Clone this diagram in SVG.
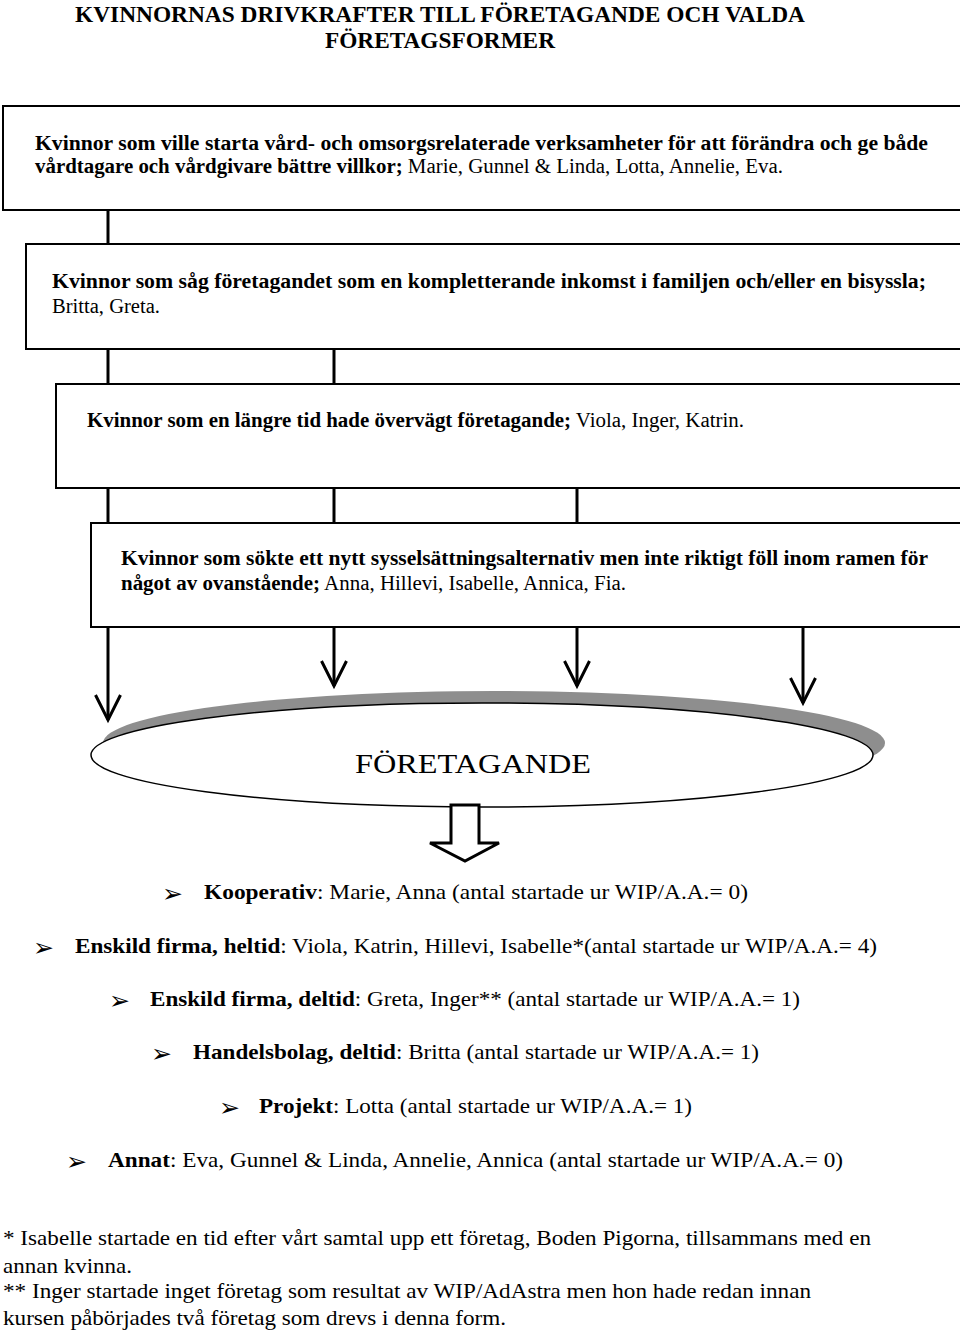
<svg xmlns="http://www.w3.org/2000/svg" width="960" height="1334" viewBox="0 0 960 1334">
<style>
text{font-family:"Liberation Serif","Times New Roman",serif;fill:#000}
.t{font-size:20px}
.b{font-weight:bold}
.title{font-size:24px;font-weight:bold}
.li{font-size:21px}
.bul{font-family:"DejaVu Sans",sans-serif;font-size:25px}
.box{fill:#fff;stroke:#000;stroke-width:2}
.con{stroke:#000;stroke-width:3;fill:none}
</style>
<defs>
<marker id="v" viewBox="-28 -16 32 32" refX="0" refY="0" markerWidth="32" markerHeight="32" markerUnits="userSpaceOnUse" orient="auto">
<path d="M-25,-12.5 L0,0 L-25,12.5" fill="none" stroke="#000" stroke-width="3"/>
</marker>
</defs>
<rect width="960" height="1334" fill="#fff"/>

<g id="title">
<text class="title" x="75" y="22" textLength="730" lengthAdjust="spacingAndGlyphs">KVINNORNAS DRIVKRAFTER TILL FÖRETAGANDE OCH VALDA</text>
<text class="title" x="325" y="48" textLength="230" lengthAdjust="spacingAndGlyphs">FÖRETAGSFORMER</text>
</g>

<g id="connectors">
<line class="con" x1="108" y1="210" x2="108" y2="244"/>
<line class="con" x1="108" y1="349" x2="108" y2="384"/>
<line class="con" x1="334" y1="349" x2="334" y2="384"/>
<line class="con" x1="108" y1="488" x2="108" y2="523"/>
<line class="con" x1="334" y1="488" x2="334" y2="523"/>
<line class="con" x1="577" y1="488" x2="577" y2="523"/>
<line class="con" x1="108" y1="627" x2="108" y2="720" marker-end="url(#v)"/>
<line class="con" x1="334" y1="627" x2="334" y2="686" marker-end="url(#v)"/>
<line class="con" x1="577" y1="627" x2="577" y2="686" marker-end="url(#v)"/>
<line class="con" x1="803" y1="627" x2="803" y2="703" marker-end="url(#v)"/>
</g>

<g id="box1">
<rect class="box" x="3" y="106" width="962" height="104"/>
<text class="t" x="35" y="150" textLength="893" lengthAdjust="spacingAndGlyphs"><tspan class="b">Kvinnor som ville starta vård- och omsorgsrelaterade verksamheter för att förändra och ge både</tspan></text>
<text class="t" x="35" y="173" textLength="748" lengthAdjust="spacingAndGlyphs"><tspan class="b">vårdtagare och vårdgivare bättre villkor;</tspan> Marie, Gunnel &amp; Linda, Lotta, Annelie, Eva.</text>
</g>

<g id="box2">
<rect class="box" x="26" y="244" width="940" height="105"/>
<text class="t b" x="52" y="288" textLength="874" lengthAdjust="spacingAndGlyphs">Kvinnor som såg företagandet som en kompletterande inkomst i familjen och/eller en bisyssla;</text>
<text class="t" x="52" y="313" textLength="108" lengthAdjust="spacingAndGlyphs">Britta, Greta.</text>
</g>

<g id="box3">
<rect class="box" x="56" y="384" width="910" height="104"/>
<text class="t" x="87" y="427" textLength="657" lengthAdjust="spacingAndGlyphs"><tspan class="b">Kvinnor som en längre tid hade övervägt företagande;</tspan> Viola, Inger, Katrin.</text>
</g>

<g id="box4">
<rect class="box" x="91" y="523" width="875" height="104"/>
<text class="t b" x="121" y="565" textLength="807" lengthAdjust="spacingAndGlyphs">Kvinnor som sökte ett nytt sysselsättningsalternativ men inte riktigt föll inom ramen för</text>
<text class="t" x="121" y="590" textLength="505" lengthAdjust="spacingAndGlyphs"><tspan class="b">något av ovanstående;</tspan> Anna, Hillevi, Isabelle, Annica, Fia.</text>
</g>

<g id="foretagande">
<ellipse cx="494" cy="743" rx="391" ry="52" fill="#8e8e8e"/>
<ellipse cx="482" cy="755" rx="391" ry="52" fill="#fff" stroke="#000" stroke-width="1.5"/>
<text x="355" y="773" style="font-size:28px" textLength="236" lengthAdjust="spacingAndGlyphs">FÖRETAGANDE</text>
</g>

<g id="blockarrow">
<path d="M451,805 L479,805 L479,843 L499,843 L465,861 L430,843 L451,843 Z" fill="#fff" stroke="#000" stroke-width="3" stroke-linejoin="miter"/>
</g>

<g id="list">
<text class="bul" x="162" y="902">➢</text>
<text class="li" x="204" y="899" textLength="544" lengthAdjust="spacingAndGlyphs"><tspan class="b">Kooperativ</tspan>: Marie, Anna  (antal startade ur WIP/A.A.= 0)</text>
<text class="bul" x="33" y="956">➢</text>
<text class="li" x="75" y="953" textLength="802" lengthAdjust="spacingAndGlyphs"><tspan class="b">Enskild firma, heltid</tspan>: Viola, Katrin, Hillevi, Isabelle*(antal startade ur WIP/A.A.= 4)</text>
<text class="bul" x="109" y="1009">➢</text>
<text class="li" x="150" y="1006" textLength="650" lengthAdjust="spacingAndGlyphs"><tspan class="b">Enskild firma, deltid</tspan>: Greta, Inger** (antal startade ur WIP/A.A.= 1)</text>
<text class="bul" x="151" y="1062">➢</text>
<text class="li" x="193" y="1059" textLength="566" lengthAdjust="spacingAndGlyphs"><tspan class="b">Handelsbolag, deltid</tspan>: Britta (antal startade ur WIP/A.A.= 1)</text>
<text class="bul" x="219" y="1116">➢</text>
<text class="li" x="259" y="1113" textLength="433" lengthAdjust="spacingAndGlyphs"><tspan class="b">Projekt</tspan>: Lotta (antal startade ur WIP/A.A.= 1)</text>
<text class="bul" x="66" y="1170">➢</text>
<text class="li" x="108" y="1167" textLength="735" lengthAdjust="spacingAndGlyphs"><tspan class="b">Annat</tspan>: Eva, Gunnel &amp; Linda, Annelie, Annica (antal startade ur WIP/A.A.= 0)</text>
</g>

<g id="footnotes">
<text class="li" x="3" y="1245" textLength="868" lengthAdjust="spacingAndGlyphs">* Isabelle startade en tid efter vårt samtal upp ett företag, Boden Pigorna, tillsammans med en</text>
<text class="li" x="3" y="1273" textLength="129" lengthAdjust="spacingAndGlyphs">annan kvinna.</text>
<text class="li" x="3" y="1298" textLength="808" lengthAdjust="spacingAndGlyphs">** Inger startade inget företag som resultat av WIP/AdAstra men hon hade redan innan</text>
<text class="li" x="3" y="1325" textLength="503" lengthAdjust="spacingAndGlyphs">kursen påbörjades två företag som drevs i denna form.</text>
</g>
</svg>
